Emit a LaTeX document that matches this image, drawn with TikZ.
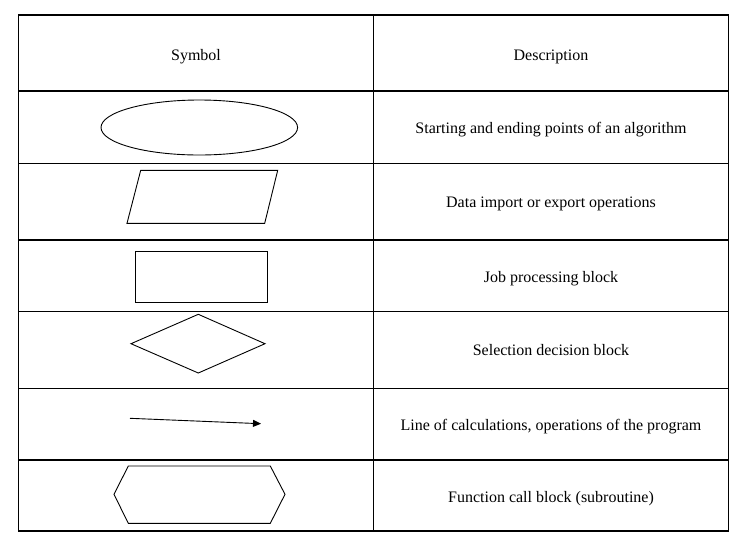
\documentclass[tikz,border=0pt]{standalone}
\usepackage{fontspec}
\setmainfont{Liberation Serif}
\usetikzlibrary{arrows.meta}
\begin{document}
\begin{tikzpicture}[x=1pt,y=-1pt,
  grid/.style={line width=1.1pt,black},
  symb/.style={line width=0.9pt,black},
  txt/.style={font=\fontsize{16}{19}\selectfont,inner sep=0pt,anchor=base}]
\useasboundingbox (0,0) rectangle (746,550);
% table
\draw[grid] (18.3,15) rectangle (728.3,531);
\draw[grid] (373.3,15) -- (373.3,531);
\foreach \y in {91,163.3,240,311.3,388.3,460}
  \draw[grid] (18.3,\y) -- (728.3,\y);
% header texts
\node[txt] (hsym) at (196,60) {Symbol};
\node[txt] (hdesc) at (551,60) {Description};
% descriptions
\node[txt] (d1) at (551,133) {Starting and ending points of an algorithm};
\node[txt] (d2) at (551,207.5) {Data import or export operations};
\node[txt] (d3) at (551,282) {Job processing block};
\node[txt] (d4) at (551,355.5) {Selection decision block};
\node[txt] (d5) at (551,430.5) {Line of calculations, operations of the program};
\node[txt] (d6) at (551,502.5) {Function call block (subroutine)};
% symbols
\draw[symb] (199.3,127.5) ellipse [x radius=98.3, y radius=27.5];
\draw[symb] (140.7,170.3) -- (277.7,170.3) -- (264.7,223.3) -- (127,223.3) -- cycle;
\draw[symb] (135.3,251.3) rectangle (267.3,302);
\draw[symb] (198.3,314.3) -- (265,343.7) -- (198.3,373) -- (131,343.7) -- cycle;
\coordinate (as) at (130,418.3);
\coordinate (ae) at (261,423.7);
\draw[symb,-{Triangle[length=8pt,width=7pt]}] (as) -- (ae);
\draw[symb] (128.3,466) -- (270.3,466) -- (285,494.3) -- (270.3,523.3) -- (128.3,523.3) -- (114,494.3) -- cycle;
\end{tikzpicture}
\end{document}
